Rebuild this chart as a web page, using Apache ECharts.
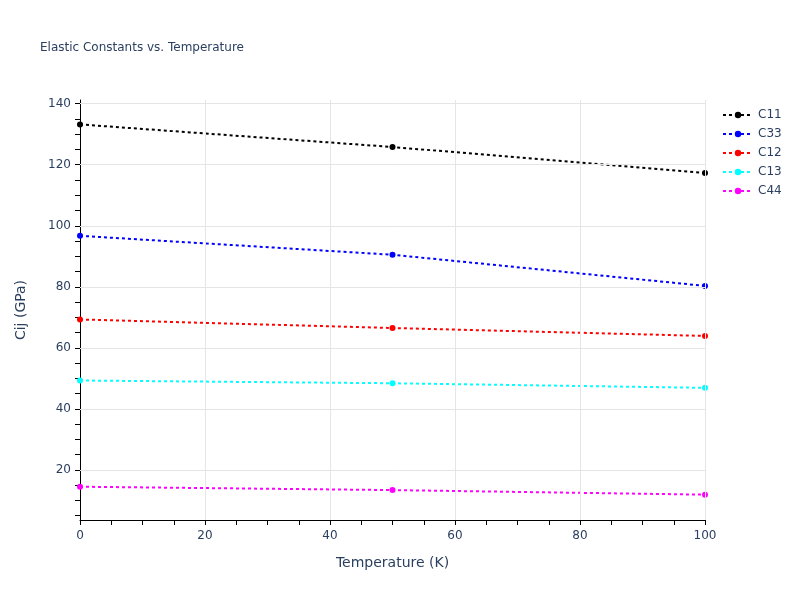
<!DOCTYPE html>
<html>
<head>
<meta charset="utf-8">
<script src="https://cdn.jsdelivr.net/npm/echarts@6/dist/echarts.min.js"></script>
<style>html,body{margin:0;padding:0;background:#fff}#c{width:800px;height:600px}</style>
</head>
<body>
<div id="c"></div>
<script>
const temperatures = [0, 50, 100];
const seriesNames = ['C11', 'C33', 'C12', 'C13', 'C44'];
const C11 = [133.2, 125.8, 117.3];
const C33 = [96.7, 90.5, 80.3];
const C12 = [69.3, 66.5, 63.9];
const C13 = [49.3, 48.4, 46.9];
const C44 = [14.5, 13.4, 11.9];
const yTickLabels = [20, 40, 60, 80, 100, 120, 140];
const xTickLabels = [0, 20, 40, 60, 80, 100];

const valuesByName = {C11, C33, C12, C13, C44};
const colors = {C11: '#000000', C33: '#0000ff', C12: '#ff0000', C13: '#00ffff', C44: '#ff00ff'};

const yMinor = [];
for (let v = 5; v <= 140; v += 5) yMinor.push(v);
const xMinor = [];
for (let v = 0; v <= 100; v += 5) xMinor.push(v);

const fontFamily = '"DejaVu Sans", Verdana, sans-serif';
const textColor = '#2a3f5f';

const chart = echarts.init(document.getElementById('c'), null, {renderer: 'canvas'});
chart.setOption({
  backgroundColor: '#ffffff',
  animation: false,
  textStyle: {fontFamily},
  title: {
    text: 'Elastic Constants vs. Temperature',
    left: 35, top: 37,
    textStyle: {fontFamily, fontSize: 12, fontWeight: 'normal', color: textColor}
  },
  legend: {
    orient: 'vertical',
    left: 717, top: 103,
    itemGap: 5,
    itemWidth: 30, itemHeight: 8,
    textStyle: {fontFamily, fontSize: 12, lineHeight: 14, color: textColor},
    data: seriesNames
  },
  grid: {left: 80, right: 95, top: 100, bottom: 80, containLabel: false},
  xAxis: {
    type: 'value', min: 0, max: 100,
    name: 'Temperature (K)', nameLocation: 'middle', nameGap: 36,
    nameTextStyle: {fontFamily, fontSize: 14, color: textColor},
    axisLine: {show: true, onZero: false, lineStyle: {color: '#000', width: 1}},
    axisTick: {show: true, length: 5, customValues: xMinor, lineStyle: {color: '#000'}},
    axisLabel: {customValues: xTickLabels, margin: 10, fontFamily, fontSize: 12, color: textColor},
    splitLine: {show: false},
    minorTick: {show: false}
  },
  yAxis: {
    type: 'value', min: 3.6, max: 141.2,
    name: 'Cij (GPa)', nameLocation: 'middle', nameGap: 52,
    nameTextStyle: {fontFamily, fontSize: 14, color: textColor},
    axisLine: {show: true, onZero: false, lineStyle: {color: '#000', width: 1}},
    axisTick: {show: true, length: 5, customValues: yMinor, lineStyle: {color: '#000'}},
    axisLabel: {customValues: yTickLabels, margin: 9, fontFamily, fontSize: 12, color: textColor},
    splitLine: {show: false}
  },
  series: seriesNames.map(name => ({
    name,
    type: 'line',
    data: temperatures.map((t, i) => [t, valuesByName[name][i]]),
    symbol: 'circle',
    symbolSize: 6,
    color: colors[name],
    itemStyle: {color: colors[name]},
    lineStyle: {color: colors[name], width: 2, type: [3, 3]},
    z: 3
  })).concat([{
    name: '_grid',
    type: 'line',
    data: [],
    silent: true,
    z: 1,
    markLine: {
      silent: true,
      symbol: 'none',
      label: {show: false},
      lineStyle: {color: '#e5e5e5', width: 1, type: 'solid'},
      data: yTickLabels.map(v => ({yAxis: v})).concat([20, 40, 60, 80, 100].map(v => ({xAxis: v})))
    }
  }])
});
</script>
</body>
</html>
